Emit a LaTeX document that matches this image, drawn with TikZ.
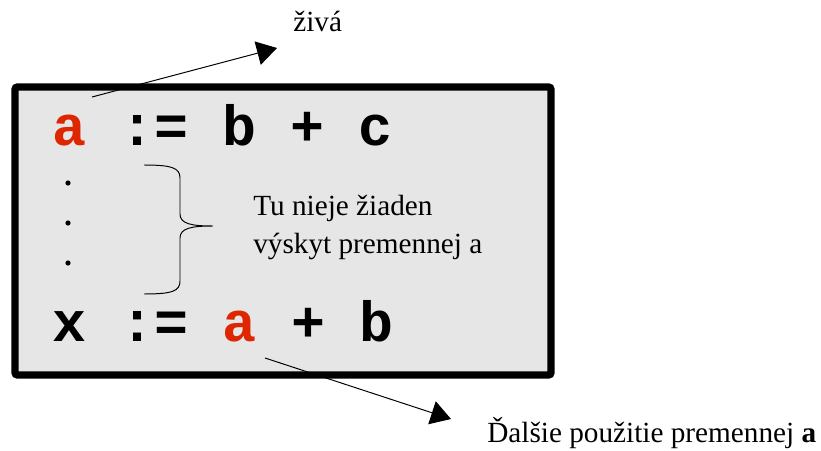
\documentclass[tikz,border=0pt]{standalone}
\usepackage{fontspec}
\setmainfont{Liberation Serif}
\newfontfamily\codefont{Liberation Mono}
\usetikzlibrary{arrows.meta,positioning}
\definecolor{cInk}{HTML}{000000}
\definecolor{cVar}{HTML}{DE2600}
\definecolor{cPanel}{HTML}{E6E6E6}
\tikzset{
  every node/.style={font=\fontsize{20.8}{27}\selectfont, text=cInk},
  code/.style={font={\codefont\fontsize{40.3}{48}\selectfont\bfseries}, inner sep=0pt, anchor=base west},
  varb/.style={code, text=cVar},
  note/.style={align=left, inner sep=0pt, anchor=base west},
  panel/.style={draw=cInk, line width=5pt, rounded corners=1.5pt, fill=cPanel},
  arr/.style={-{Triangle[length=0.5cm,width=0.6cm]}, line width=0.7pt, draw=cInk},
  brc/.style={line width=0.7pt, draw=cInk},
}

\begin{document}
\begin{tikzpicture}[x=1cm,y=1cm]
\useasboundingbox (0,0) rectangle (20.525,11.25);
% grey panel with the code
\node[panel, minimum width=13.4cm, minimum height=7.2cm] (box) at (7.075,5.475) {};
\node[varb] (a1) at (1.3,7.6) {a};
\node[code] (l1) at (a1.base east) {\ := b + c};
\node[code] (x2) at (1.3,2.725) {x :=};
\node[varb] (a2) at (x2.base east) {\ a};
\node[code] (l2) at (a2.base east) {\ + b};
% vertical dots
\fill[cInk] (1.7,6.675) circle (0.065);
\fill[cInk] (1.7,5.675) circle (0.065);
\fill[cInk] (1.7,4.675) circle (0.065);
% brace and its note
\draw[brc] (3.6,7.125) .. controls (4.3,7.125) and (4.5,7.05) .. (4.5,6.8) -- (4.5,5.9)
  .. controls (4.5,5.65) and (4.8,5.6) .. (5.325,5.6)
  .. controls (4.8,5.6) and (4.5,5.55) .. (4.5,5.3) -- (4.5,4.225)
  .. controls (4.5,3.97) and (4.3,3.9) .. (3.6,3.9);
\node[note] (gap) at (6.325,4.925) {Tu nieje žiaden\\výskyt premennej a};
% labels outside
\node[note] (ziva) at (7.325,10.45) {živá};
\node[note] (next) at (12.175,0.2) {Ďalšie použitie premennej \textbf{a}};
% arrows
\coordinate (liveTail) at (2.3,8.825);
\coordinate (liveTip) at (6.925,10.05);
\coordinate (useTail) at (6.625,2.3);
\coordinate (useTip) at (11.275,0.775);
\draw[arr] (liveTail) -- (liveTip);
\draw[arr] (useTail) -- (useTip);
\end{tikzpicture}
\end{document}
